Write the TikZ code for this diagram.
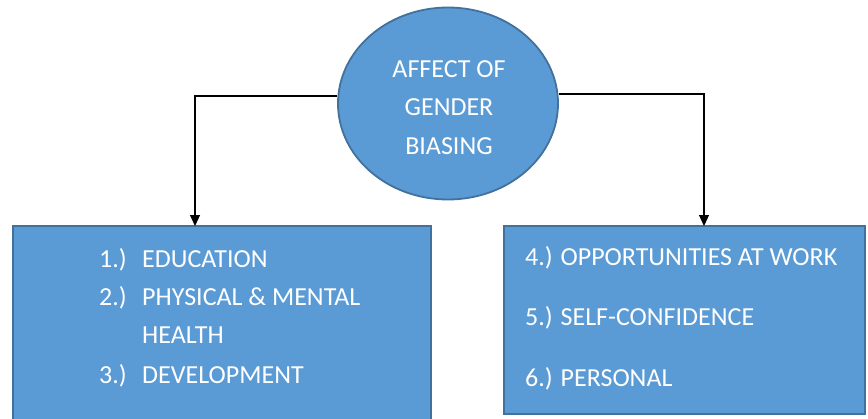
\documentclass[tikz,border=0pt]{standalone}
\usepackage{fontspec}
\setmainfont{Carlito}
\usetikzlibrary{arrows.meta,shapes.geometric}
\definecolor{fillblue}{HTML}{5B9BD5}
\definecolor{edgeblue}{HTML}{41719C}
\tikzset{
  shapefill/.style={fill=fillblue, draw=edgeblue, line width=1.8pt},
  wtext/.style={text=white, font=\fontsize{26}{28}\selectfont, inner sep=0pt},
  conn/.style={draw=black, line width=1.2pt, -{Triangle[length=11pt,width=10pt]}}
}
\begin{document}
\begin{tikzpicture}[x=1pt,y=-1pt]
\useasboundingbox (0,0) rectangle (868,418);
% ellipse
\node (ell) [shapefill, ellipse, minimum width=220pt, minimum height=192pt, inner sep=0pt] at (448,103.5) {};
\node (e1) [wtext, anchor=base] at (449,77) {AFFECT OF};
\node (e2) [wtext, anchor=base] at (449,115) {GENDER};
\node (e3) [wtext, anchor=base] at (449,154) {BIASING};
% boxes
\path[shapefill] (13,226) rectangle (431,430);
\coordinate (lbtop) at (195,226);
\path[shapefill] (504,226) rectangle (865,414);
\coordinate (rbtop) at (704,226);
% left box text
\node (n1) [wtext, anchor=base west] at (99,267) {1.)};
\node (t1) [wtext, anchor=base west] at (142,267) {EDUCATION};
\node (n2) [wtext, anchor=base west] at (99,305) {2.)};
\node (t2) [wtext, anchor=base west] at (142,305) {PHYSICAL \& MENTAL};
\node (t2b) [wtext, anchor=base west] at (142,343) {HEALTH};
\node (n3) [wtext, anchor=base west] at (99,383) {3.)};
\node (t3) [wtext, anchor=base west] at (142,383) {DEVELOPMENT};
% right box text
\node (t4) [wtext, anchor=base west] at (525,265) {4.) OPPORTUNITIES AT WORK};
\node (t5) [wtext, anchor=base west] at (525,325) {5.) SELF-CONFIDENCE};
\node (t6) [wtext, anchor=base west] at (525,386) {6.) PERSONAL};
% connectors
\coordinate (lc) at (195,96);
\coordinate (rc) at (704,94);
\draw[conn] (ell.west |- lc) -- (lc) -- (lbtop);
\draw[conn] (ell.east |- rc) -- (rc) -- (rbtop);
\end{tikzpicture}
\end{document}
